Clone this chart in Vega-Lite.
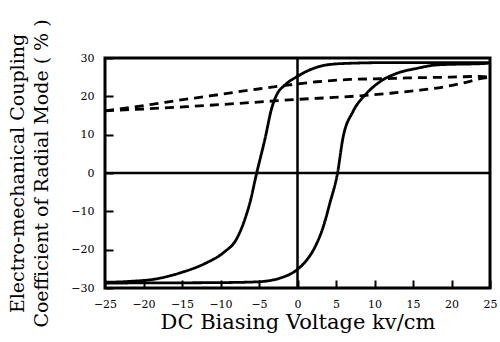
{
  "$schema": "https://vega.github.io/schema/vega-lite/v6.json",
  "width": 385,
  "height": 230,
  "autosize": {"type": "none"},
  "padding": {"left": 105, "top": 58, "right": 10, "bottom": 54},
  "background": "white",
  "config": {
    "view": {"stroke": "black", "strokeWidth": 3},
    "axis": {
      "domain": false,
      "grid": false,
      "ticks": true,
      "tickColor": "black",
      "tickWidth": 2,
      "tickSize": -8,
      "labelFont": "DejaVu Serif",
      "labelFontSize": 11,
      "labelColor": "black",
      "titleFont": "DejaVu Serif",
      "titleFontWeight": "normal",
      "titleColor": "black"
    }
  },
  "data": {
    "values": [
      {"x": -25, "y": -28.5, "branch": "L", "style": "solid"},
      {"x": -22, "y": -28.3, "branch": "L", "style": "solid"},
      {"x": -18.3, "y": -27.6, "branch": "L", "style": "solid"},
      {"x": -15, "y": -25.9, "branch": "L", "style": "solid"},
      {"x": -12, "y": -23.6, "branch": "L", "style": "solid"},
      {"x": -9.5, "y": -20.6, "branch": "L", "style": "solid"},
      {"x": -8.0, "y": -17.5, "branch": "L", "style": "solid"},
      {"x": -7.0, "y": -13.0, "branch": "L", "style": "solid"},
      {"x": -6.2, "y": -7.9, "branch": "L", "style": "solid"},
      {"x": -5.3, "y": 0, "branch": "L", "style": "solid"},
      {"x": -4.2, "y": 9.1, "branch": "L", "style": "solid"},
      {"x": -3.35, "y": 16.9, "branch": "L", "style": "solid"},
      {"x": -2.7, "y": 20.4, "branch": "L", "style": "solid"},
      {"x": -1.6, "y": 23.0, "branch": "L", "style": "solid"},
      {"x": -0.1, "y": 25.1, "branch": "L", "style": "solid"},
      {"x": 1.6, "y": 26.9, "branch": "L", "style": "solid"},
      {"x": 3.8, "y": 28.2, "branch": "L", "style": "solid"},
      {"x": 6.4, "y": 28.6, "branch": "L", "style": "solid"},
      {"x": 12, "y": 28.8, "branch": "L", "style": "solid"},
      {"x": 25, "y": 28.8, "branch": "L", "style": "solid"},
      {"x": -25, "y": -28.7, "branch": "R", "style": "solid"},
      {"x": -10.5, "y": -28.6, "branch": "R", "style": "solid"},
      {"x": -5.3, "y": -28.4, "branch": "R", "style": "solid"},
      {"x": -1.8, "y": -27.1, "branch": "R", "style": "solid"},
      {"x": -0.1, "y": -25.3, "branch": "R", "style": "solid"},
      {"x": 1.2, "y": -22.7, "branch": "R", "style": "solid"},
      {"x": 2.3, "y": -19.2, "branch": "R", "style": "solid"},
      {"x": 3.35, "y": -14.0, "branch": "R", "style": "solid"},
      {"x": 4.2, "y": -7.9, "branch": "R", "style": "solid"},
      {"x": 5.2, "y": 0, "branch": "R", "style": "solid"},
      {"x": 5.9, "y": 9.1, "branch": "R", "style": "solid"},
      {"x": 7.2, "y": 16.0, "branch": "R", "style": "solid"},
      {"x": 8.8, "y": 20.4, "branch": "R", "style": "solid"},
      {"x": 10.7, "y": 23.8, "branch": "R", "style": "solid"},
      {"x": 12.9, "y": 26.0, "branch": "R", "style": "solid"},
      {"x": 15.5, "y": 27.3, "branch": "R", "style": "solid"},
      {"x": 18.1, "y": 28.2, "branch": "R", "style": "solid"},
      {"x": 24.6, "y": 28.6, "branch": "R", "style": "solid"},
      {"x": 25, "y": 28.7, "branch": "R", "style": "solid"},
      {"x": -25, "y": 16.2, "branch": "U", "style": "dashed"},
      {"x": -21.3, "y": 17.2, "branch": "U", "style": "dashed"},
      {"x": -18.3, "y": 18.1, "branch": "U", "style": "dashed"},
      {"x": -15.7, "y": 18.9, "branch": "U", "style": "dashed"},
      {"x": -11.4, "y": 20.1, "branch": "U", "style": "dashed"},
      {"x": -7.7, "y": 21.2, "branch": "U", "style": "dashed"},
      {"x": -4, "y": 22.2, "branch": "U", "style": "dashed"},
      {"x": -1, "y": 23.0, "branch": "U", "style": "dashed"},
      {"x": 2.5, "y": 23.8, "branch": "U", "style": "dashed"},
      {"x": 6.8, "y": 24.4, "branch": "U", "style": "dashed"},
      {"x": 11.1, "y": 24.6, "branch": "U", "style": "dashed"},
      {"x": 14.2, "y": 24.8, "branch": "U", "style": "dashed"},
      {"x": 19.8, "y": 25.0, "branch": "U", "style": "dashed"},
      {"x": 23.7, "y": 25.2, "branch": "U", "style": "dashed"},
      {"x": 25, "y": 25.0, "branch": "U", "style": "dashed"},
      {"x": -25, "y": 16.2, "branch": "D", "style": "dashed"},
      {"x": -20, "y": 16.7, "branch": "D", "style": "dashed"},
      {"x": -14.4, "y": 17.3, "branch": "D", "style": "dashed"},
      {"x": -8.1, "y": 18.1, "branch": "D", "style": "dashed"},
      {"x": -2.3, "y": 18.9, "branch": "D", "style": "dashed"},
      {"x": 0, "y": 19.2, "branch": "D", "style": "dashed"},
      {"x": 5.5, "y": 19.8, "branch": "D", "style": "dashed"},
      {"x": 8.5, "y": 20.2, "branch": "D", "style": "dashed"},
      {"x": 12, "y": 20.8, "branch": "D", "style": "dashed"},
      {"x": 15.9, "y": 21.6, "branch": "D", "style": "dashed"},
      {"x": 19.4, "y": 22.6, "branch": "D", "style": "dashed"},
      {"x": 22, "y": 23.7, "branch": "D", "style": "dashed"},
      {"x": 23.7, "y": 24.6, "branch": "D", "style": "dashed"},
      {"x": 25, "y": 25.0, "branch": "D", "style": "dashed"}
    ]
  },
  "layer": [
    {
      "mark": {"type": "line", "interpolate": "monotone", "strokeWidth": 2.8, "color": "black", "clip": true},
      "encoding": {
        "x": {
          "field": "x", "type": "quantitative",
          "scale": {"domain": [-25, 25], "nice": false, "zero": false},
          "axis": {
            "values": [-25, -20, -15, -10, -5, 0, 5, 10, 15, 20, 25],
            "tickCount": 20,
            "labelOverlap": false,
            "labelFlush": false,
            "labelPadding": 18,
            "title": "DC Biasing Voltage kv/cm",
            "titleFontSize": 21,
            "titlePadding": 2
          }
        },
        "y": {
          "field": "y", "type": "quantitative",
          "scale": {"domain": [-30, 30], "nice": false},
          "axis": {
            "values": [-30, -20, -10, 0, 10, 20, 30],
            "tickCount": 20,
            "labelOverlap": false,
            "labelFlush": false,
            "labelPadding": 19,
            "title": ["Electro-mechanical Coupling", "Coefficient of Radial Mode ( % )"],
            "titleFontSize": 19,
            "titleLineHeight": 24,
            "titlePadding": 19
          }
        },
        "detail": {"field": "branch", "type": "nominal"},
        "strokeDash": {
          "field": "style", "type": "nominal",
          "scale": {"domain": ["solid", "dashed"], "range": [[1, 0], [9, 6]]},
          "legend": null
        }
      }
    },
    {
      "data": {"values": [{"v": 0}]},
      "mark": {"type": "rule", "strokeWidth": 2.5, "color": "black"},
      "encoding": {"x": {"field": "v", "type": "quantitative"}}
    },
    {
      "data": {"values": [{"v": 0}]},
      "mark": {"type": "rule", "strokeWidth": 2.5, "color": "black"},
      "encoding": {"y": {"field": "v", "type": "quantitative"}}
    }
  ]
}
